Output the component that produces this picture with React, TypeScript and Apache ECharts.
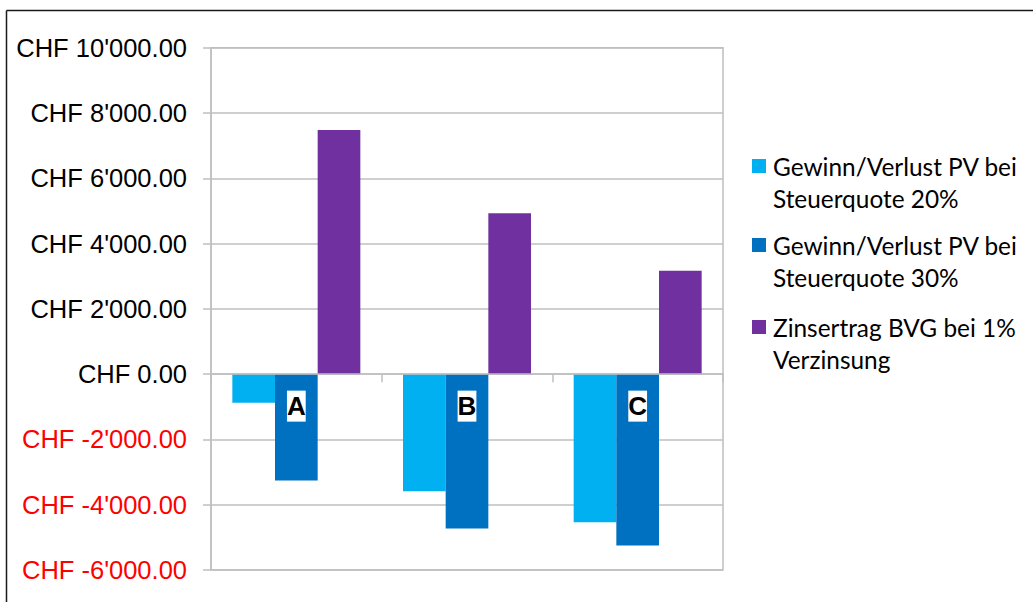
import React, { useEffect, useRef } from "react";
import * as echarts from "echarts";

// Varianten A, B, C
const categories = ["A", "B", "C"];

const seriesNames = [
  "Gewinn/Verlust PV bei Steuerquote 20%",
  "Gewinn/Verlust PV bei Steuerquote 30%",
  "Zinsertrag BVG bei 1% Verzinsung",
];

// Legend text split into two lines
const legendLines: Record<string, string[]> = {
  "Gewinn/Verlust PV bei Steuerquote 20%": ["Gewinn/Verlust PV bei", "Steuerquote 20%"],
  "Gewinn/Verlust PV bei Steuerquote 30%": ["Gewinn/Verlust PV bei", "Steuerquote 30%"],
  "Zinsertrag BVG bei 1% Verzinsung": ["Zinsertrag BVG bei 1%", "Verzinsung"],
};

const pv20 = [-880, -3590, -4535];
const pv30 = [-3260, -4730, -5250];
const bvg = [7480, 4930, 3170];

const colors = ["#00B0F0", "#0070C0", "#7030A0"];

const yMin = -6000;
const yMax = 10000;
const yStep = 2000;

function chf(v: number): string {
  const neg = v < 0;
  const abs = Math.abs(v);
  const intPart = Math.floor(abs)
    .toString()
    .replace(/\B(?=(\d{3})+(?!\d))/g, "'");
  const dec = (abs - Math.floor(abs)).toFixed(2).slice(1);
  return "CHF " + (neg ? "-" : "") + intPart + dec;
}

export default function App() {
  const ref = useRef<HTMLDivElement>(null);

  useEffect(() => {
    document.body.style.margin = "0";
    if (!ref.current) return;
    const chart = echarts.init(ref.current, null, { renderer: "svg" });

    const legendFont = "Lato, 'Noto Sans', sans-serif";
    const lineH = 32;
    // icon centres of the three legend entries
    const legendCenters = [166, 245, 327];

    chart.setOption({
      animation: false,
      backgroundColor: "#ffffff",
      grid: {
        left: 211,
        right: 312,
        top: 47.7,
        bottom: 32,
        show: true,
        borderColor: "#bfbfbf",
        borderWidth: 1.5,
        containLabel: false,
        outerBoundsMode: "none",
      },
      legend: seriesNames.map((name, i) => ({
        data: [name],
        left: 752,
        top: legendCenters[i] - 1.5 * lineH,
        padding: 0,
        orient: "vertical",
        icon: "rect",
        itemWidth: 14,
        itemHeight: 14,
        itemGap: 0,
        selectedMode: false,
        // a leading blank line keeps the icon level with the first text line
        formatter: (n: string) => "\u00a0\n" + (legendLines[n] ?? [n]).join("\n"),
        textStyle: {
          fontFamily: legendFont,
          fontSize: 24.4,
          color: "#000000",
          lineHeight: lineH,
          padding: [0, 0, 0, 2],
        },
      })),
      xAxis: {
        type: "category",
        data: categories,
        z: 5,
        axisLine: { onZero: true, lineStyle: { color: "#bfbfbf", width: 1.5 } },
        axisTick: { show: true, length: 8, lineStyle: { color: "#bfbfbf", width: 1.5 } },
        axisLabel: { show: false },
        splitLine: { show: false },
      },
      yAxis: {
        type: "value",
        min: yMin,
        max: yMax,
        interval: yStep,
        axisLine: { show: true, lineStyle: { color: "#bfbfbf", width: 1.5 } },
        axisTick: { show: true, length: 8, lineStyle: { color: "#bfbfbf", width: 1.5 } },
        axisLabel: {
          margin: 24,
          fontFamily: "'Liberation Sans', Arial, sans-serif",
          fontSize: 25.5,
          formatter: (v: number) => chf(v),
          color: (v: any) => (Number(v) < 0 ? "#ff0000" : "#000000"),
        },
        splitLine: { lineStyle: { color: "#bfbfbf", width: 1.5 } },
      },
      series: [
        ...[pv20, pv30, bvg].map((data, i) => ({
          name: seriesNames[i],
          type: "bar",
          data,
          barGap: "0%",
          barCategoryGap: "25%",
          itemStyle: { color: colors[i] },
        })),
        // category names sitting just below the zero line
        {
          name: "Variante",
          type: "scatter",
          data: categories.map((c) => [c, 0]),
          symbolSize: 0,
          silent: true,
          z: 10,
          itemStyle: { opacity: 1 },
          label: {
            show: true,
            position: "inside",
            offset: [0, 32],
            formatter: (p: any) => p.name || p.value[0],
            fontFamily: "'Liberation Sans', Arial, sans-serif",
            fontWeight: "bold",
            fontSize: 26,
            lineHeight: 30,
            color: "#000000",
            opacity: 1,
            backgroundColor: "#ffffff",
            padding: [1, 0, 0, 0],
          },
        },
      ],
      graphic: [
        {
          type: "line",
          shape: { x1: 6.5, y1: 10.5, x2: 1033, y2: 10.5 },
          style: { stroke: "#1a1a1a", lineWidth: 1.5 },
          z: 10,
        },
        {
          type: "line",
          shape: { x1: 6.5, y1: 10.5, x2: 6.5, y2: 602 },
          style: { stroke: "#1a1a1a", lineWidth: 1.5 },
          z: 10,
        },
      ],
    });

    return () => chart.dispose();
  }, []);

  return (
    <div
      ref={ref}
      style={{ position: "fixed", left: 0, top: 0, width: 1035, height: 602 }}
    />
  );
}
